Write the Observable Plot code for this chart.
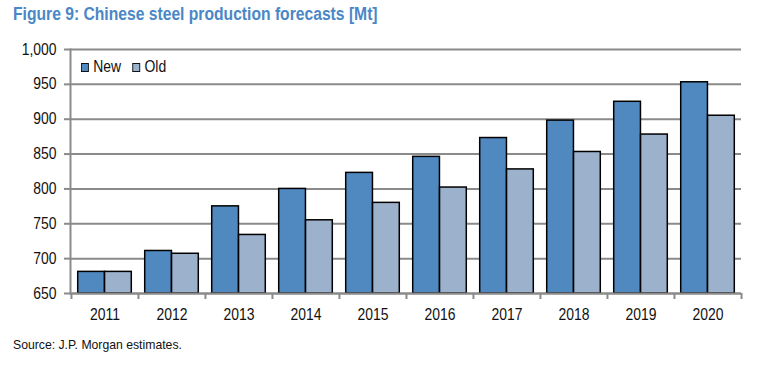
<!DOCTYPE html>
<html>
<head>
<meta charset="utf-8">
<script src="https://cdn.jsdelivr.net/npm/d3@7"></script>
<script src="https://cdn.jsdelivr.net/npm/@observablehq/plot@0.6"></script>
<style>
  html, body { margin: 0; padding: 0; background: #fff; }
  #wrap { position: relative; width: 758px; height: 367px; font-family: "Liberation Sans", Arial, sans-serif; }
  #title { position: absolute; left: 13px; top: 4px; font-weight: bold; font-size: 18px; color: #4a87c6; white-space: nowrap; transform: scaleX(0.87); transform-origin: 0 0; }
  #chart { position: absolute; left: 0; top: 36px; }
  #legend { position: absolute; left: 81px; top: 58px; font-size: 16px; color: #111; display: flex; align-items: center; white-space: nowrap; transform: scaleX(0.87); transform-origin: 0 0; }
  #legend .sw { display: inline-block; width: 7px; height: 7px; border: 1.5px solid #111; margin-right: 5px; }
  #legend .item { display: flex; align-items: center; margin-right: 13px; }
  #caption { position: absolute; left: 13px; top: 337px; font-size: 13px; color: #111; white-space: nowrap; transform: scaleX(0.94); transform-origin: 0 0; }
</style>
</head>
<body>
<div id="wrap">
  <div id="title">Figure 9: Chinese steel production forecasts [Mt]</div>
  <div id="chart"></div>
  <div id="legend"></div>
  <div id="caption">Source: J.P. Morgan estimates.</div>
</div>
<script>
const years = ["2011","2012","2013","2014","2015","2016","2017","2018","2019","2020"];
const newValues = [681, 711, 775, 800, 823, 846, 873, 898, 925, 953];
const oldValues = [681, 707, 734, 755, 780, 802, 828, 853, 878, 905];
const series = ["New", "Old"];
const colors = ["#4f89c0", "#9cb1cc"];
const yTicks = [650, 700, 750, 800, 850, 900, 950, 1000];

const W = 758, H = 294, ML = 70, MR = 17, MT = 13, MB = 37;
const step = (W - ML - MR) / years.length;
const barW = step * 0.4;
const outer = (step - 2 * barW) / 2;

const rows = years.flatMap((y, i) => [
  {year: y, series: series[0], value: newValues[i]},
  {year: y, series: series[1], value: oldValues[i]}
]);

const gridColor = "#8a8a8a";

const chart = Plot.plot({
  width: W, height: H,
  marginLeft: ML, marginRight: MR, marginTop: MT, marginBottom: MB,
  style: {fontFamily: "'Liberation Sans', Arial, sans-serif", fontSize: "16px", background: "#fff"},
  x: {type: "band", domain: years, paddingInner: 0, paddingOuter: 0, axis: null},
  y: {domain: [yTicks[0], yTicks[yTicks.length - 1]], axis: null},
  marks: [
    Plot.ruleY(yTicks, {y: d => d, stroke: gridColor, strokeWidth: 2}),
    Plot.frame({anchor: "left", stroke: gridColor, strokeWidth: 2}),
    Plot.barY(rows.filter(d => d.series === series[0]), {
      x: "year", y1: yTicks[0], y2: "value", fill: colors[0], stroke: "#000", strokeWidth: 1.5,
      insetLeft: outer, insetRight: outer + barW
    }),
    Plot.barY(rows.filter(d => d.series === series[1]), {
      x: "year", y1: yTicks[0], y2: "value", fill: colors[1], stroke: "#000", strokeWidth: 1.5,
      insetLeft: outer + barW, insetRight: outer
    }),
    Plot.axisY({ticks: yTicks, tickSize: 6, tickPadding: 8, tickFormat: d3.format(","), stroke: gridColor, strokeWidth: 2, fill: "#111", label: null, fontSize: 16}),
    Plot.axisX({tickSize: 6, tickFormat: () => "", dx: -step / 2, stroke: gridColor, strokeWidth: 2, label: null}),
    Plot.axisX({ticks: [years[years.length - 1]], tickSize: 6, tickFormat: () => "", dx: step / 2, stroke: gridColor, strokeWidth: 2, label: null}),
    Plot.axisX({tickSize: 0, tickPadding: 15, fill: "#111", label: null, fontSize: 16}),
    Plot.ruleY([yTicks[0]], {stroke: gridColor, strokeWidth: 2})
  ]
});

// Condense the tick labels horizontally, like the narrow font of the original
chart.querySelectorAll("text").forEach(t => {
  const tr = t.getAttribute("transform");
  if (tr) {
    t.setAttribute("transform", tr + " scale(0.87,1)");
  } else {
    const x = +(t.getAttribute("x") || 0);
    t.setAttribute("x", 0);
    t.setAttribute("transform", `translate(${x},0) scale(0.87,1)`);
  }
});
document.getElementById("chart").appendChild(chart);

const legend = document.getElementById("legend");
series.forEach((s, i) => {
  const item = document.createElement("span");
  item.className = "item";
  const sw = document.createElement("span");
  sw.className = "sw";
  sw.style.background = colors[i];
  item.appendChild(sw);
  item.appendChild(document.createTextNode(s));
  legend.appendChild(item);
});
</script>
</body>
</html>
